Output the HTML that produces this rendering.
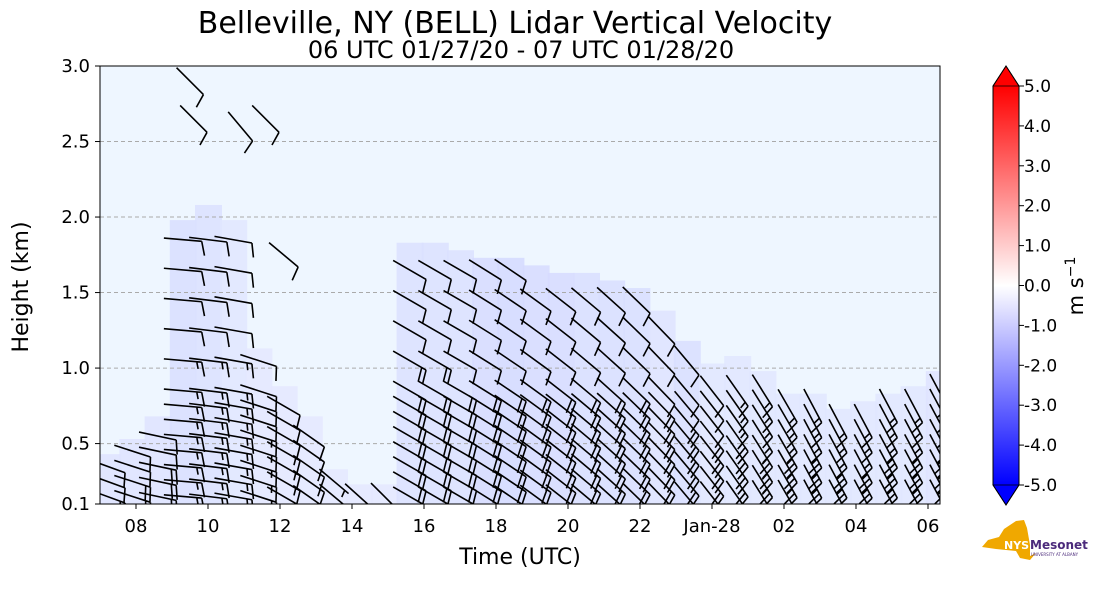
<!DOCTYPE html>
<html><head><meta charset="utf-8">
<style>
body{margin:0;background:#fff;width:1101px;height:600px;overflow:hidden;font-family:"Liberation Sans","DejaVu Sans",sans-serif}
svg text{font-family:"DejaVu Sans","Liberation Sans",sans-serif}
</style></head>
<body>
<svg id="chart" width="1101" height="600" xmlns="http://www.w3.org/2000/svg">
<text x="515" y="33" font-size="30" text-anchor="middle" fill="#000">Belleville, NY (BELL) Lidar Vertical Velocity</text>
<text x="521" y="58" font-size="24" text-anchor="middle" fill="#000">06 UTC 01/27/20 - 07 UTC 01/28/20</text>
<defs>
<clipPath id="pc"><rect x="100" y="66" width="840" height="438"/></clipPath>
<linearGradient id="cb" x1="0" y1="1" x2="0" y2="0">
<stop offset="0" stop-color="#0000ff"/><stop offset="0.5" stop-color="#ffffff"/><stop offset="1" stop-color="#ff0000"/>
</linearGradient>
</defs>
<rect x="100" y="66" width="840" height="438" fill="#eef6ff"/>
<g id="shade" clip-path="url(#pc)"></g>
<g id="grid"></g>
<g id="barbs" clip-path="url(#pc)"></g>
<rect x="100" y="66" width="840" height="438" fill="none" stroke="#000" stroke-width="1"/>
<g id="axes"></g>
<text transform="translate(28,287) rotate(-90)" font-size="22" text-anchor="middle">Height (km)</text>
<text x="520" y="564" font-size="22" text-anchor="middle">Time (UTC)</text>
<g>
<rect x="993" y="86" width="26" height="399" fill="url(#cb)"/>
<polygon points="993,86 1019,86 1006,66" fill="#ff0000" stroke="#000" stroke-width="0.8"/>
<polygon points="993,485 1019,485 1006,505" fill="#0000ff" stroke="#000" stroke-width="0.8"/>
<polygon points="993,86 1006,66 1019,86 1019,485 1006,505 993,485" fill="none" stroke="#000" stroke-width="1"/>
<g id="cbticks"></g>
</g>
<text transform="translate(1083,286) rotate(-90)" font-size="21" text-anchor="middle">m s<tspan font-size="14" dy="-8">−1</tspan></text>
<g>
<polygon points="1004,529 1016,521 1024,520 1027,528 1030,545 1030,556 1036,553 1030,560 1020,558 1016,551 996,549 982,547 988,540 999,537" fill="#f0a800"/>
<text x="1004" y="549" font-size="11" font-weight="bold" fill="#fff">NYS</text>
<text x="1030" y="549" font-size="12" font-weight="bold" fill="#4b2a7b">Mesonet</text>
<text x="1031" y="556" font-size="4" fill="#4b2a7b">UNIVERSITY AT ALBANY</text>
</g>
</svg>
<script>
// ---- data ----
const colTimes = [7.2,7.9,8.6,9.3,10.0,10.7,11.4,12.1,12.8,13.5,14.2,14.9,15.6,16.3,17.0,17.7,18.4,19.1,19.8,20.5,21.2,21.9,22.6,23.3,24.0,24.7,25.4,26.1,26.8,27.5,28.2,28.9,29.6,30.3];
const colTops  = [0.35,0.45,0.6,1.9,2.0,1.9,1.05,0.8,0.6,0.25,0.15,0.15,1.75,1.75,1.7,1.65,1.65,1.6,1.55,1.55,1.5,1.45,1.3,1.1,0.95,1.0,0.9,0.75,0.75,0.65,0.7,0.75,0.8,0.9];
const colDirs  = [110,108,102,95,97,100,108,120,125,130,132,135,120,120,120,122,124,126,128,130,132,134,136,140,142,145,148,150,152,152,152,152,152,152];
const colSpeeds= [20,20,20,15,15,15,15,15,15,10,10,10,20,20,20,20,20,20,20,20,20,20,20,20,20,25,25,25,25,25,25,25,25,25];
const upperSpeeds=[10,10,10,10,10,10,10,10,10,5,5,5,10,10,10,10,10,10,10,10,10,10,10,10,10,15,15,15,15,15,15,15,15,15];
const shadeLevels=[0.5,0.5,0.5,0.7,0.6,0.4,0.3,0.3,0.3,0.3,0.3,0.3,0.6,0.6,0.6,0.8,0.9,0.8,0.8,0.7,0.7,0.7,0.5,0.7,0.4,0.4,0.4,0.4,0.4,0.4,0.4,0.4,0.4,0.5];
const extraTimes = [9.5,9.6,10.9,11.6,12.1];
const extraHeights=[2.9,2.65,2.6,2.65,1.75];
const extraDirs = [135,135,140,135,130];
const xTicks = ["08","10","12","14","16","18","20","22","Jan-28","02","04","06"];
const xTickHours=[8,10,12,14,16,18,20,22,24,26,28,30];
const yTicks = [0.1,0.5,1.0,1.5,2.0,2.5,3.0];
const cbTicks = [5,4,3,2,1,0,-1,-2,-3,-4,-5];

const NS="http://www.w3.org/2000/svg";
const X = t => 100 + (t-7)*36;
const Y = h => 504 - (h-0.1)*151.03;
const CB = v => 285.5 - v*39.9;
function mk(tag, attrs, parent){const e=document.createElementNS(NS,tag);for(const k in attrs)e.setAttribute(k,attrs[k]);parent.appendChild(e);return e;}

const shade=document.getElementById('shade');
colTimes.forEach((t,i)=>{
  const lv=shadeLevels[i];
  const c=`rgb(${Math.round(236-28*lv)},${Math.round(240-26*lv)},255)`;
  const r=mk('rect',{x:X(t)-13,y:Y(colTops[i]+0.08),width:27,height:Y(0.1)-Y(colTops[i]+0.08),fill:c,opacity:0.85},shade);
  
  
});

const grid=document.getElementById('grid');
const axes=document.getElementById('axes');
yTicks.forEach(v=>{
  if(v>0.1&&v<3.0){const l=mk('line',{x1:100,x2:940,y1:Y(v),y2:Y(v),stroke:'#aaa','stroke-dasharray':'4,3','stroke-width':1},grid);
  
  }
  mk('line',{x1:95,x2:100,y1:Y(v),y2:Y(v),stroke:'#000'},axes);
  const tx=mk('text',{x:90,y:Y(v)+6,'font-size':18,'text-anchor':'end'},axes);
  tx.textContent=v.toFixed(1);
  
  
});
xTicks.forEach((lab,i)=>{
  const x=X(xTickHours[i]);
  mk('line',{x1:x,x2:x,y1:504,y2:509,stroke:'#000'},axes);
  const tx=mk('text',{x:x,y:532,'font-size':18,'text-anchor':'middle'},axes);
  tx.textContent=lab;
  
  
});
const cbt=document.getElementById('cbticks');
cbTicks.forEach(v=>{
  const y=CB(v);
  mk('line',{x1:1019,x2:1024,y1:y,y2:y,stroke:'#000'},cbt);
  const tx=mk('text',{x:1024,y:y+6,'font-size':17},cbt);
  tx.textContent=v.toFixed(1);
  
  
});

const barbs=document.getElementById('barbs');
function barb(t,h,dir,spd){
  const a=dir*Math.PI/180;
  const ux=Math.sin(a), uy=-Math.cos(a);
  const L=38;
  const bx=X(t)-ux*L*0.5, by=Y(h)-uy*L*0.5;
  const tx=bx+ux*L, ty=by+uy*L;
  let d=`M${bx},${by}L${tx},${ty}`;
  const px=-uy, py=ux;
  let n=spd, pos=0;
  while(n>=10){const sx=tx-ux*pos, sy=ty-uy*pos;
    d+=`M${sx},${sy}L${sx+px*14+ux*4},${sy+py*14+uy*4}`; n-=10; pos+=5;}
  if(n>=5){if(pos===0)pos=5;const sx=tx-ux*pos, sy=ty-uy*pos;
    d+=`M${sx},${sy}L${sx+px*7+ux*2},${sy+py*7+uy*2}`;}
  const p=mk('path',{d:d,stroke:'#000','stroke-width':1.6,fill:'none'},barbs);
  
  
}
colTimes.forEach((t,i)=>{
  for(let h=0.15;h<=colTops[i]+0.001;h+=(h<0.8?0.1:0.2)){
    const s = h>colTops[i]*0.6 ? upperSpeeds[i] : colSpeeds[i];
    barb(t,h,colDirs[i],s);
  }
});
extraTimes.forEach((t,i)=>barb(t,extraHeights[i],extraDirs[i],10));
</script>
</body></html>
